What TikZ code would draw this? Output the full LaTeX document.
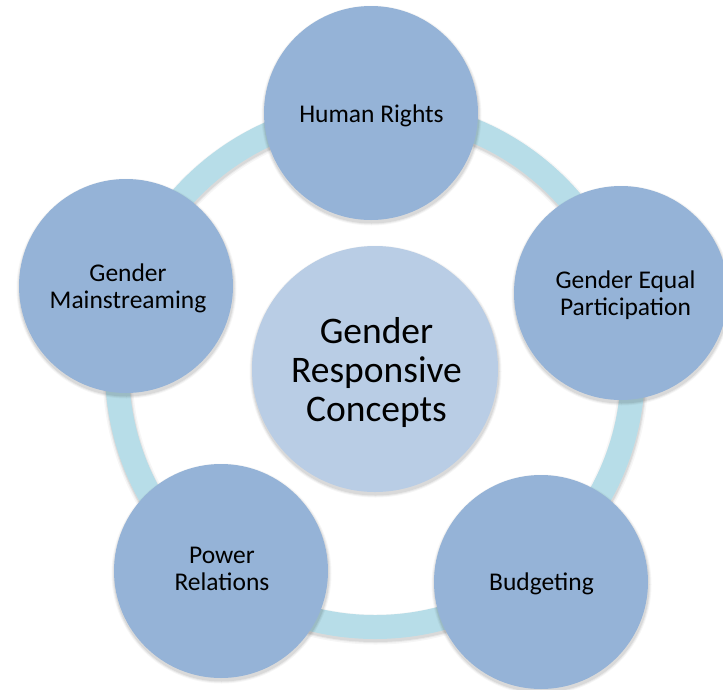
\documentclass[tikz,border=0pt]{standalone}
\usepackage{fontspec}
\setmainfont{Carlito}
\usetikzlibrary{calc}
\definecolor{ringblue}{HTML}{B7DDE8}
\definecolor{petal}{HTML}{95B3D7}
\definecolor{hub}{HTML}{B9CDE5}
\tikzset{
  petalnode/.style={circle, fill=petal, minimum size=214pt, inner sep=0pt},
  hubnode/.style={circle, fill=hub, minimum size=246pt, inner sep=0pt},
  % multi-line labels sit on the baseline of their last line
  petaltext/.style={font=\fontsize{25.5}{26.7}\selectfont, align=center, anchor=base, inner sep=0pt},
  hubtext/.style={font=\fontsize{37.5}{39.2}\selectfont, align=center, anchor=base, inner sep=0pt},
  softshadow/.style={black, opacity=#1},
}
\begin{document}
\begin{tikzpicture}[x=1pt,y=-1pt]
\useasboundingbox (0,0) rectangle (723,689);
% centres of the hub and the five surrounding circles
\coordinate (o) at (375,369);
\coordinate (c1) at (371,113);
\coordinate (c2) at (621,293);
\coordinate (c3) at (541,582);
\coordinate (c4) at (221,571);
\coordinate (c5) at (126,286);

% ring with a soft shadow
\foreach \w/\a in {30/0.035,27/0.05,25/0.07}
  \draw[softshadow=\a, line width=\w pt] ($(o)+(0.5,2.5)$) circle[radius=258pt];
\draw[ringblue, line width=24pt] (o) circle[radius=258pt];

% hub
\foreach \r/\a in {126/0.035,125/0.05,124/0.07}
  \fill[softshadow=\a] ($(o)+(0.5,2.5)$) circle[radius=\r pt];
\node[hubnode] (hub) at (o) {};

% surrounding circles
\foreach \c in {c1,c2,c3,c4,c5}
  \foreach \r/\a in {110/0.035,109/0.05,108/0.07}
    \fill[softshadow=\a] ($(\c)+(0.5,2.5)$) circle[radius=\r pt];
\node[petalnode] (rights) at (c1) {};
\node[petalnode] (equal) at (c2) {};
\node[petalnode] (budget) at (c3) {};
\node[petalnode] (power) at (c4) {};
\node[petalnode] (mainstream) at (c5) {};

% labels
\node[hubtext] (hubt) at (376.5,421.7) {Gender\\Responsive\\Concepts};
\node[petaltext] (rightst) at (371.5,122.7) {Human Rights};
\node[petaltext] (equalt) at (625.5,315.5) {Gender Equal\\Participation};
\node[petaltext] (budgett) at (541.5,590.7) {Budgeting};
\node[petaltext] (powert) at (222,590) {Power\\Relations};
\node[petaltext] (mainstreamt) at (128,308.3) {Gender\\Mainstreaming};
\end{tikzpicture}
\end{document}
